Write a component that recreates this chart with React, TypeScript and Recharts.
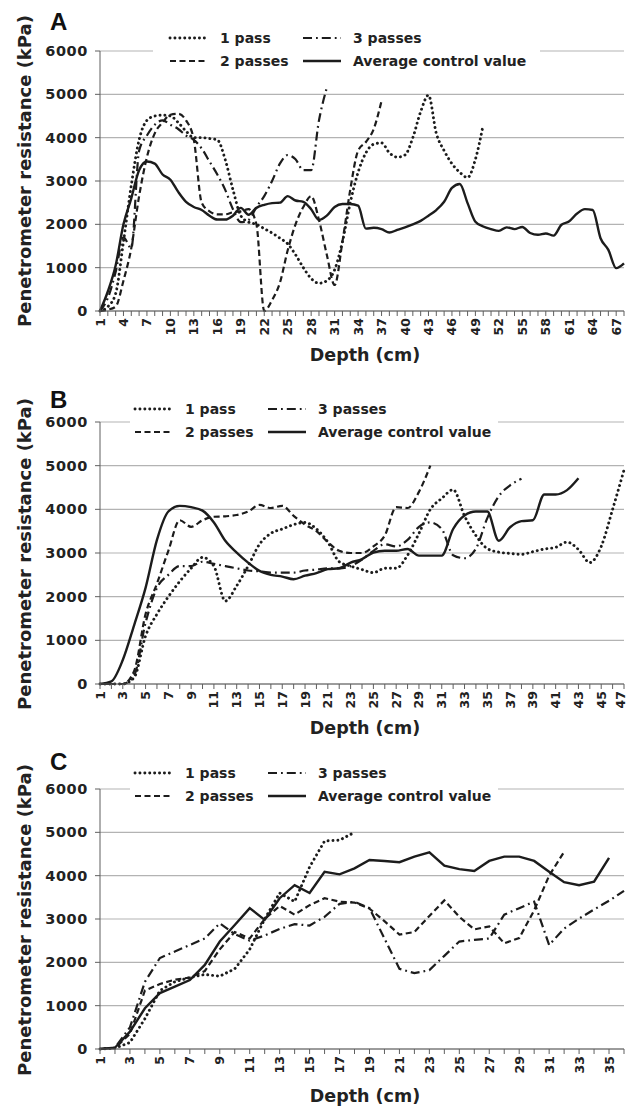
import React from "react";
import { LineChart, Line, XAxis, YAxis, CartesianGrid, Legend, Label } from "recharts";

const INK = "#1c1c1c";
const AXIS = "#5f5f5f";
const GRID = "#b3b3b3";
const FONT = "'DejaVu Sans', Verdana, sans-serif";

const resistanceTicks = [0, 1000, 2000, 3000, 4000, 5000, 6000];

// ---- panel A
const depthA = [
  1, 2, 3, 4, 5, 6, 7, 8, 9, 10, 11, 12, 13, 14, 15, 16, 17, 18, 19, 20, 21, 22, 23, 24,
  25, 26, 27, 28, 29, 30, 31, 32, 33, 34, 35, 36, 37, 38, 39, 40, 41, 42, 43, 44, 45, 46,
  47, 48, 49, 50, 51, 52, 53, 54, 55, 56, 57, 58, 59, 60, 61, 62, 63, 64, 65, 66, 67, 68,
];
const depthLabelsA = [1, 4, 7, 10, 13, 16, 19, 22, 25, 28, 31, 34, 37, 40, 43, 46, 49, 52, 55, 58, 61, 64, 67];
const onePassA = [
  0, 100, 400, 1600, 2900, 3950, 4400, 4500, 4520, 4500, 4350, 4150, 4000, 4000, 3980, 3950,
  3500, 2800, 2200, 2050, 2000, 1900, 1800, 1680, 1550, 1300, 1000, 750, 640, 700, 950, 1600,
  2500, 3200, 3650, 3850, 3880, 3650, 3550, 3600, 4000, 4600, 4980, 4100, 3700, 3400, 3200,
  3080, 3500, 4300,
];
const twoPassesA = [
  0, 30, 100, 700, 1450, 2650, 3550, 4100, 4350, 4530, 4550, 4400, 3950, 2500, 2300, 2230,
  2230, 2280, 2300, 2350, 2000, 0, 250, 650, 1400, 2000, 2400, 2650, 2100, 1300, 600, 1600,
  2800, 3700, 3900, 4200, 4850,
];
const threePassesA = [
  0, 300, 900, 1700, 1450, 3700, 4050, 4300, 4400, 4300, 4200, 4050, 3950, 3750, 3450, 3150,
  2800, 2350, 2050, 2100, 2400, 2650, 3000, 3400, 3600, 3500, 3250, 3250, 4400, 5150,
];
const controlA = [
  0, 450, 1050, 2000, 2600, 3250, 3450, 3400, 3150, 3030, 2750, 2520, 2400, 2330, 2200, 2110,
  2110, 2200, 2380, 2220, 2380, 2450, 2490, 2500, 2650, 2550, 2520, 2350, 2100, 2200, 2400,
  2470, 2470, 2430, 1900, 1920, 1890, 1810, 1870, 1930, 2000, 2080, 2200, 2330, 2520, 2840,
  2930, 2490, 2060, 1950, 1890, 1850, 1930, 1890, 1940, 1800, 1760, 1790, 1740, 1990, 2070,
  2250, 2350, 2330, 1680, 1410, 990, 1100,
];

// ---- panel B
const depthB = [
  1, 2, 3, 4, 5, 6, 7, 8, 9, 10, 11, 12, 13, 14, 15, 16, 17, 18, 19, 20, 21, 22, 23, 24,
  25, 26, 27, 28, 29, 30, 31, 32, 33, 34, 35, 36, 37, 38, 39, 40, 41, 42, 43, 44, 45, 46, 47,
];
const depthLabelsB = [1, 3, 5, 7, 9, 11, 13, 15, 17, 19, 21, 23, 25, 27, 29, 31, 33, 35, 37, 39, 41, 43, 45, 47];
const onePassB = [
  0, 0, 0, 150, 1100, 1600, 2000, 2350, 2650, 2900, 2700, 1900, 2250, 2700, 3200, 3450, 3550,
  3650, 3700, 3550, 3250, 2800, 2700, 2620, 2550, 2650, 2650, 2950, 3450, 4000, 4250, 4450,
  3850, 3400, 3100, 3020, 2990, 2970, 3030, 3090, 3130, 3250, 3080, 2780, 3150, 4000, 4900,
];
const twoPassesB = [
  0, 0, 0, 300, 1600, 2300, 3050, 3750, 3600, 3750, 3830, 3840, 3870, 3950, 4100, 4030, 4080,
  3850, 3650, 3500, 3250, 3050, 3000, 3000, 3150, 3400, 4050, 4030, 4400, 5000,
];
const threePassesB = [
  0, 0, 0, 200, 1400, 2200, 2500, 2700, 2700, 2800, 2750, 2700, 2650, 2600, 2580, 2550, 2550,
  2550, 2600, 2620, 2650, 2650, 2700, 2850, 3050, 3200, 3150, 3300, 3600, 3700, 3550, 2950,
  2880, 3100, 3800, 4300, 4550, 4700,
];
const controlB = [
  0, 60, 550, 1350, 2200, 3300, 3950, 4080, 4050, 3970, 3700, 3280, 3010, 2780, 2590, 2500,
  2460, 2400, 2480, 2540, 2630, 2650, 2780, 2860, 3010, 3050, 3050, 3090, 2940, 2940, 2940,
  3550, 3860, 3950, 3950, 3280, 3590, 3730, 3750, 4340, 4340, 4440, 4710,
];

// ---- panel C
const depthC = [
  1, 2, 3, 4, 5, 6, 7, 8, 9, 10, 11, 12, 13, 14, 15, 16, 17, 18, 19, 20, 21, 22, 23, 24,
  25, 26, 27, 28, 29, 30, 31, 32, 33, 34, 35, 36,
];
const depthLabelsC = [1, 3, 5, 7, 9, 11, 13, 15, 17, 19, 21, 23, 25, 27, 29, 31, 33, 35];
const onePassC = [
  0, 20, 150, 700, 1350, 1550, 1650, 1720, 1680, 1850, 2300, 3000, 3600, 3400, 4200, 4800,
  4820, 5000,
];
const twoPassesC = [
  0, 20, 350, 1350, 1500, 1600, 1650, 1800, 2300, 2700, 2550, 3000, 3300, 3100, 3320, 3480,
  3400, 3380, 3240, 2950, 2640, 2700, 3070, 3430, 3050, 2760, 2830, 2440, 2560, 3200, 4000, 4550,
];
const threePassesC = [
  0, 30, 500, 1550, 2100, 2250, 2400, 2550, 2900, 2650, 2500, 2620, 2770, 2880, 2850, 3050,
  3350, 3400, 3250, 2550, 1850, 1750, 1820, 2150, 2480, 2520, 2550, 3100, 3250, 3400, 2400,
  2780, 3010, 3220, 3420, 3650,
];
const controlC = [
  0, 30, 400, 940, 1290, 1440, 1590, 1940, 2480, 2860, 3250, 2980, 3480, 3780, 3600, 4090,
  4030, 4170, 4360, 4340, 4310, 4440, 4540, 4230, 4150, 4110, 4340, 4440, 4440, 4340, 4090,
  3850, 3780, 3860, 4410,
];

const SERIES = [
  { key: "onePass", name: "1 pass", dash: "0.1 4.8", width: 2.9, cap: "round" },
  { key: "twoPasses", name: "2 passes", dash: "6 3.5", width: 2.2, cap: "butt" },
  { key: "threePasses", name: "3 passes", dash: "9 4 1.8 4", width: 2.2, cap: "butt" },
  { key: "control", name: "Average control value", dash: undefined, width: 2.4, cap: "butt" },
];

// Excel style legend: columns are (1 pass, 2 passes) and (3 passes, control)
const LEGEND_GRID = [
  ["onePass", "threePasses"],
  ["twoPasses", "control"],
];

function buildRows(depths: number[], one: number[], two: number[], three: number[], control: number[]) {
  return depths.map((depth, i) => ({
    depth,
    onePass: one[i],
    twoPasses: two[i],
    threePasses: three[i],
    control: control[i],
  }));
}

function LegendBox({ width, col1, col2, row1 }: { width: number; col1: number; col2: number; row1: number }) {
  const cols = [col1, col2];
  return (
    <svg width={width} height={45} style={{ display: "block", background: "#fff" }}>
      {LEGEND_GRID.map((row, r) =>
        row.map((key, c) => {
          const s = SERIES.find((x) => x.key === key)!;
          const y = row1 + r * 23;
          const x0 = cols[c];
          return (
            <g key={key}>
              <line
                x1={x0}
                x2={x0 + 38}
                y1={y}
                y2={y}
                stroke={INK}
                strokeWidth={s.width}
                strokeDasharray={s.dash}
                strokeLinecap={s.cap as any}
              />
              <text x={x0 + 50} y={y + 5} fontFamily={FONT} fontSize={14} fontWeight="bold" fill="#222">
                {s.name}
              </text>
            </g>
          );
        })
      )}
    </svg>
  );
}

type PanelConfig = {
  letter: string;
  letterBaseline: number;
  top: number;
  height: number;
  plotTop: number;
  plotHeight: number;
  depths: number[];
  depthLabels: number[];
  rows: ReturnType<typeof buildRows>;
  curve: "monotone" | "linear";
  yTitleCenter: number;
  xTitleBaseline: number;
  legendLeft: number;
  legendTop: number;
  legendWidth: number;
  legendCol1: number;
  legendCol2: number;
  legendRow1: number;
};

function Panel(p: PanelConfig) {
  const xAxisHeight = p.height - p.plotTop - p.plotHeight;
  const labels = new Set(p.depthLabels);
  return (
    <div style={{ position: "absolute", left: 0, top: p.top, width: 629, height: p.height }}>
      <LineChart width={629} height={p.height} data={p.rows} margin={{ top: p.plotTop, right: 5, bottom: 0, left: 0 }}>
        <CartesianGrid vertical={false} stroke={GRID} strokeWidth={1.2} />
        <XAxis
          dataKey="depth"
          type="number"
          domain={[p.depths[0], p.depths[p.depths.length - 1]]}
          ticks={p.depths}
          interval={0}
          height={xAxisHeight}
          tickSize={5}
          tickMargin={2}
          stroke={AXIS}
          tick={(t: any) =>
            labels.has(t.payload.value) ? (
              <text
                transform={`translate(${Math.min(t.x + 4.5, 625)}, ${t.y}) rotate(-90)`}
                textAnchor="end"
                fontFamily={FONT}
                fontSize={12.5}
                fontWeight="bold"
                fill="#222"
              >
                {t.payload.value}
              </text>
            ) : (
              <g />
            )
          }
        >
          <Label
            content={() => (
              <text x={365} y={p.xTitleBaseline} textAnchor="middle" fontFamily={FONT} fontSize={17.5} fontWeight="bold" fill="#222">
                Depth (cm)
              </text>
            )}
          />
        </XAxis>
        <YAxis
          type="number"
          domain={[0, 6000]}
          ticks={resistanceTicks}
          interval={0}
          width={100}
          tickSize={5}
          tickMargin={7}
          stroke={AXIS}
          tick={(t: any) => (
            <text x={t.x} y={t.y + 5} textAnchor="end" fontFamily={FONT} fontSize={14.5} letterSpacing={0.6} fontWeight="bold" fill="#222">
              {t.payload.value}
            </text>
          )}
        >
          <Label
            content={() => (
              <g>
                <text
                  transform={`translate(31, ${p.yTitleCenter}) rotate(-90)`}
                  textAnchor="middle"
                  fontFamily={FONT}
                  fontSize={18}
                  fontWeight="bold"
                  fill="#222"
                >
                  Penetrometer resistance (kPa)
                </text>
                <text x={50} y={p.letterBaseline} fontFamily="'Liberation Sans', Arial, sans-serif" fontSize={24} fontWeight="bold" fill="#111">
                  {p.letter}
                </text>
              </g>
            )}
          />
        </YAxis>
        <Legend
          layout="horizontal"
          verticalAlign="middle"
          align="center"
          wrapperStyle={{ position: "absolute", left: p.legendLeft, top: p.legendTop, width: p.legendWidth, height: 45 }}
          content={() => <LegendBox width={p.legendWidth} col1={p.legendCol1} col2={p.legendCol2} row1={p.legendRow1} />}
        />
        {SERIES.map((s) => (
          <Line
            key={s.key}
            dataKey={s.key}
            name={s.name}
            type={p.curve}
            stroke={INK}
            strokeWidth={s.width}
            strokeDasharray={s.dash}
            strokeLinecap={s.cap as any}
            dot={false}
            activeDot={false}
            isAnimationActive={false}
          />
        ))}
      </LineChart>
    </div>
  );
}

export default function App() {
  return (
    <div style={{ position: "absolute", left: 0, top: 0, width: 629, height: 1114, background: "#fff" }}>
      <Panel
        letter="A"
        letterBaseline={30}
        top={0}
        height={370}
        plotTop={51}
        plotHeight={260}
        depths={depthA}
        depthLabels={depthLabelsA}
        rows={buildRows(depthA, onePassA, twoPassesA, threePassesA, controlA)}
        curve="monotone"
        yTitleCenter={171}
        xTitleBaseline={361}
        legendLeft={153}
        legendTop={28}
        legendWidth={387}
        legendCol1={17}
        legendCol2={150}
        legendRow1={10}
      />
      <Panel
        letter="B"
        letterBaseline={38}
        top={370}
        height={370}
        plotTop={52}
        plotHeight={262}
        depths={depthB}
        depthLabels={depthLabelsB}
        rows={buildRows(depthB, onePassB, twoPassesB, threePassesB, controlB)}
        curve="monotone"
        yTitleCenter={184}
        xTitleBaseline={364}
        legendLeft={130}
        legendTop={28}
        legendWidth={368}
        legendCol1={5}
        legendCol2={138}
        legendRow1={11}
      />
      <Panel
        letter="C"
        letterBaseline={30}
        top={740}
        height={374}
        plotTop={49}
        plotHeight={260}
        depths={depthC}
        depthLabels={depthLabelsC}
        rows={buildRows(depthC, onePassC, twoPassesC, threePassesC, controlC)}
        curve="linear"
        yTitleCenter={180}
        xTitleBaseline={362}
        legendLeft={130}
        legendTop={22}
        legendWidth={368}
        legendCol1={5}
        legendCol2={138}
        legendRow1={11}
      />
    </div>
  );
}
